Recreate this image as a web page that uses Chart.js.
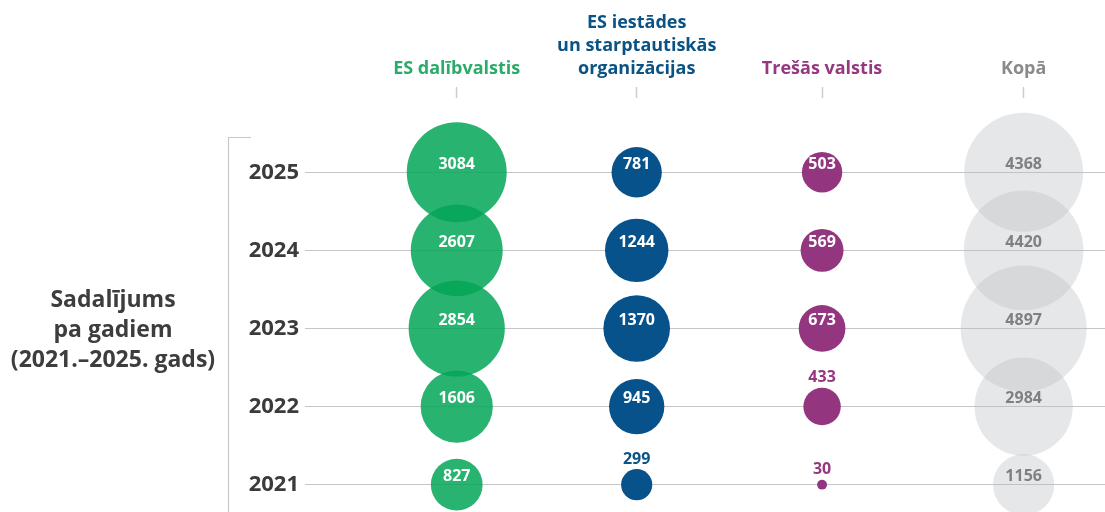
<!DOCTYPE html>
<html>
<head>
<meta charset="utf-8">
<script src="https://cdn.jsdelivr.net/npm/chart.js@4"></script>
<style>
  body { margin: 0; background: #fff; }
  #wrap { position: relative; width: 1105px; height: 512px; }
  #side-title {
    position: absolute; left: 0; top: 283px; width: 226px;
    font: bold 23px "Open Sans", sans-serif; line-height: 30px;
    color: #3d3d3d; text-align: center;
  }
</style>
</head>
<body>
<div id="wrap">
  <canvas id="myChart" width="1105" height="512"></canvas>
  <div id="side-title">Sadalījums<br>pa gadiem<br>(2021.–2025. gads)</div>
</div>
<script>
// data
const years = [2021, 2022, 2023, 2024, 2025];
const categories = [
  ["ES dalībvalstis"],
  ["ES iestādes", "un starptautiskās", "organizācijas"],
  ["Trešās valstis"],
  ["Kopā"]
];
const esMembers = [827, 1606, 2854, 2607, 3084];
const esBodies = [299, 945, 1370, 1244, 781];
const thirdCountries = [30, 433, 673, 569, 503];
const totals = [1156, 2984, 4897, 4420, 4368];

// layout / style
const colPos = [0, 1, 2.03, 3.15];
const headerColors = ["#2bab6b", "#0b5285", "#953880", "#8a8a8d"];
const fills = ["rgba(4,166,87,0.85)", "#07528a", "#94367f", "rgba(186,188,191,0.36)"];
const radius = (v) => 0.9 * Math.sqrt(v);

const series = [esMembers, esBodies, thirdCountries, totals];

const datasets = series.map((vals, c) => ({
  label: categories[c].join(" "),
  data: vals.map((v, i) => ({ x: colPos[c], y: years[i], r: radius(v), v: v })),
  backgroundColor: fills[c],
  borderWidth: 0,
  hoverRadius: 0,
  clip: false
}));

const bubbleLabels = {
  id: "bubbleLabels",
  afterDatasetsDraw(chart) {
    const ctx = chart.ctx;
    ctx.save();
    ctx.font = 'bold 16px "Open Sans", sans-serif';
    ctx.textAlign = "center";
    ctx.textBaseline = "middle";
    chart.data.datasets.forEach((ds, c) => {
      const meta = chart.getDatasetMeta(c);
      meta.data.forEach((el, i) => {
        const v = ds.data[i].v;
        const r = ds.data[i].r;
        if (v >= 470) {
          ctx.fillStyle = c === 3 ? "#808082" : "#ffffff";
          ctx.fillText(v, el.x, el.y - 8);
        } else {
          ctx.fillStyle = headerColors[c];
          ctx.fillText(v, el.x, el.y - r - 10);
        }
      });
    });
    ctx.restore();
  }
};

const bracket = {
  id: "bracket",
  beforeDraw(chart) {
    const ctx = chart.ctx;
    ctx.save();
    ctx.strokeStyle = "#c8c8c8";
    ctx.lineWidth = 1.2;
    ctx.beginPath();
    ctx.moveTo(251, 137.5);
    ctx.lineTo(228.5, 137.5);
    ctx.lineTo(228.5, 512);
    ctx.stroke();
    ctx.restore();
  }
};

const ctx = document.getElementById("myChart").getContext("2d");
new Chart(ctx, {
  type: "bubble",
  data: { datasets: datasets },
  plugins: [bracket, bubbleLabels],
  options: {
    responsive: false,
    animation: false,
    layout: { padding: 0, autoPadding: false },
    plugins: {
      legend: { display: false },
      tooltip: { enabled: false }
    },
    scales: {
      x: {
        type: "linear",
        position: "top",
        min: -0.843,
        max: 3.602,
        afterBuildTicks: (scale) => {
          scale.ticks = colPos.map((p) => ({ value: p }));
        },
        afterFit: (scale) => {
          scale.height = 98;
          scale.paddingLeft = 0;
          scale.paddingRight = 0;
        },
        grid: {
          drawOnChartArea: false,
          drawTicks: true,
          tickLength: 11,
          tickColor: "#cccccc",
          tickWidth: 1.5
        },
        border: { display: false },
        ticks: {
          autoSkip: false,
          maxRotation: 0,
          minRotation: 0,
          padding: 7,
          font: { family: "'Open Sans', sans-serif", size: 18, weight: "bold", lineHeight: 1.28 },
          color: (c) => headerColors[c.index],
          callback: (val, i) => categories[i]
        }
      },
      y: {
        type: "linear",
        min: 2020.65,
        max: 2025.951,
        afterBuildTicks: (scale) => {
          scale.ticks = years.map((y) => ({ value: y }));
        },
        afterFit: (scale) => {
          scale.width = 305;
          scale.paddingTop = 0;
          scale.paddingBottom = 0;
        },
        grid: {
          drawTicks: false,
          color: "#c6c6c6",
          lineWidth: 1
        },
        border: { display: false },
        ticks: {
          padding: 6,
          font: { family: "'Open Sans', sans-serif", size: 22, weight: "bold" },
          color: "#3b3b3b",
          callback: (val) => String(val)
        }
      }
    }
  }
});
</script>
</body>
</html>
